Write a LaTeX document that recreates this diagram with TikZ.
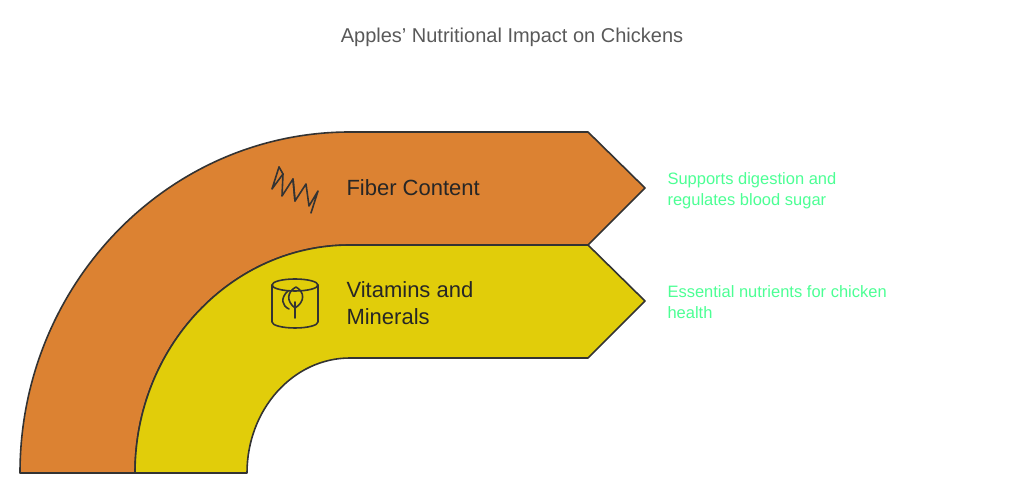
\documentclass[tikz,border=0pt]{standalone}
\usepackage{fontspec}
\setmainfont{Liberation Sans}
\begin{document}
\begin{tikzpicture}[x=1pt,y=1pt,
  band/.style={draw=black!80,line width=1.6pt,line join=round},
  icon/.style={draw=black!80,line width=1.6pt,line cap=round,line join=round},
  lbl/.style={anchor=west,text=black!85,font=\fontsize{22}{27}\selectfont,align=left},
  note/.style={anchor=west,text=green!60!cyan!70!white,font=\fontsize{16.5}{21}\selectfont,align=left}]
\useasboundingbox (0,0) rectangle (1024,494);
\path[band,fill={rgb,255:red,220;green,130;blue,50}] (20,21) arc[start angle=180,end angle=90,x radius=330,y radius=341] -- (588,362) -- (645,306) -- (588,249) -- (350,249) arc[start angle=90,end angle=180,x radius=215,y radius=228] -- cycle;
\path[band,fill={rgb,255:red,225;green,205;blue,10}] (135,21) arc[start angle=180,end angle=90,x radius=215,y radius=228] -- (588,249) -- (645,193) -- (588,136) -- (350,136) arc[start angle=90,end angle=180,x radius=103,y radius=115] -- cycle;
\node (title) at (512,457) {\textcolor{black!65}{\fontsize{20}{24}\selectfont Apples' Nutritional Impact on Chickens}};
\node[lbl] (fiber) at (343,306) {Fiber Content};
\node[lbl] (vit) at (343,191) {Vitamins and\\Minerals};
\node[note] (n1) at (664,303) {Supports digestion and\\regulates blood sugar};
\node[note] (n2) at (664,192) {Essential nutrients for chicken\\health};
% fiber icon
\draw[icon] (279,327) -- (272,305) -- (283,320) -- (282,298) -- (293,315) -- (295,293) -- (306,310) -- (309,288) -- (318,303) -- (311,281);
\draw[icon] (279,327) -- (283,320) (293,315)--(295,293);
% cylinder icon
\draw[icon] (272,209) -- (272,172) arc[start angle=180,end angle=360,x radius=23,y radius=6] -- (318,209);
\draw[icon] (295,209) ellipse[x radius=23,y radius=6];
\draw[icon] (295,176) -- (295,192) (295,186) .. controls (305,192) and (305,202) .. (296,207) .. controls (287,202) and (286,193) .. (295,186);
\draw[icon] (288,203) .. controls (280,196) and (282,188) .. (289,185);
\end{tikzpicture}
\end{document}
